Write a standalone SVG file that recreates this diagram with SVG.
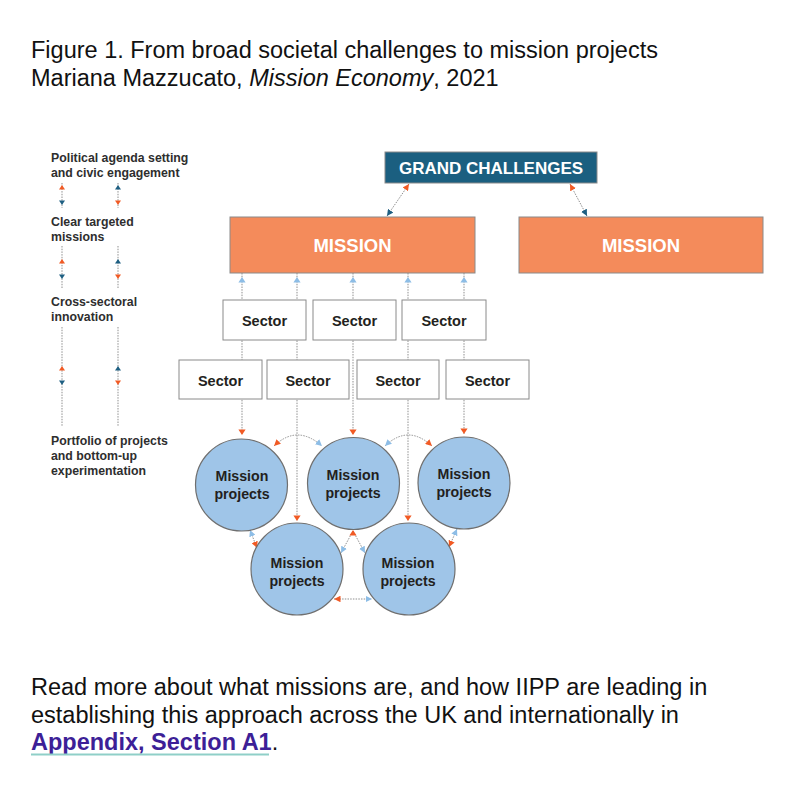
<svg xmlns="http://www.w3.org/2000/svg" xmlns:xlink="http://www.w3.org/1999/xlink" width="792" height="798" viewBox="0 0 792 798">
<defs>
<style>
.cap{font-family:"Liberation Sans",Arial,sans-serif;font-size:23.5px;fill:#111}
.leg{font-family:"Liberation Sans",Arial,sans-serif;font-size:12.3px;font-weight:bold;fill:#2e2e2e}
.box{stroke:#8a8a8a;stroke-width:1}
.sector{fill:#fff}
.mission{fill:#f48b5b}
.gc{fill:#1b5f80}
.wt{font-family:"Liberation Sans",Arial,sans-serif;font-weight:bold;fill:#fff;text-anchor:middle}
.st{font-family:"Liberation Sans",Arial,sans-serif;font-size:14.5px;font-weight:bold;fill:#231f20;text-anchor:middle}
.circ{fill:#9fc5e8;stroke:#6f6f6f;stroke-width:1.2}
.ct{font-family:"Liberation Sans",Arial,sans-serif;font-size:14.2px;font-weight:bold;fill:#231f20;text-anchor:middle}
.dot{fill:none;stroke:#8f8f8f;stroke-width:1;stroke-dasharray:1.5 1.2}
.o{fill:#f15a24}
.b{fill:#1e5f82}
.l{fill:#8dbde6}
</style>
<path id="ah" d="M0,0 L3.6,5.5 L-3.6,5.5 Z"/>
<path id="as" d="M0,0 L3,4.5 L-3,4.5 Z"/>
<marker id="mo" viewBox="0 0 8 8" refX="8" refY="4" markerWidth="6.5" markerHeight="6.5" markerUnits="userSpaceOnUse" orient="auto-start-reverse"><path d="M0,0 L8,4 L0,8 Z" fill="#f15a24"/></marker>
<marker id="mb" viewBox="0 0 8 8" refX="8" refY="4" markerWidth="6.5" markerHeight="6.5" markerUnits="userSpaceOnUse" orient="auto-start-reverse"><path d="M0,0 L8,4 L0,8 Z" fill="#1e5f82"/></marker>
<marker id="ml" viewBox="0 0 8 8" refX="8" refY="4" markerWidth="6.5" markerHeight="6.5" markerUnits="userSpaceOnUse" orient="auto-start-reverse"><path d="M0,0 L8,4 L0,8 Z" fill="#8dbde6"/></marker>
</defs>
<rect width="792" height="798" fill="#fff"/>

<g id="title">
<text class="cap" x="31" y="58">Figure 1. From broad societal challenges to mission projects</text>
<text class="cap" x="31" y="86">Mariana Mazzucato, <tspan font-style="italic">Mission Economy</tspan>, 2021</text>
</g>

<g id="legend">
<text class="leg" x="51" y="162">Political agenda setting</text>
<text class="leg" x="51" y="177">and civic engagement</text>
<text class="leg" x="51" y="226">Clear targeted</text>
<text class="leg" x="51" y="241">missions</text>
<text class="leg" x="51" y="306">Cross-sectoral</text>
<text class="leg" x="51" y="321">innovation</text>
<text class="leg" x="51" y="445">Portfolio of projects</text>
<text class="leg" x="51" y="460">and bottom-up</text>
<text class="leg" x="51" y="475">experimentation</text>
</g>

<g id="connectors">
<!-- legend arrows -->
<path class="dot" d="M62,183 V208 M118,183 V208 M62,246 V288 M118,246 V288 M62,327 V426 M118,327 V426"/>
<use href="#as" class="o" transform="translate(62,185)"/>
<use href="#as" class="b" transform="translate(62,205) rotate(180)"/>
<use href="#as" class="b" transform="translate(118,185)"/>
<use href="#as" class="o" transform="translate(118,205) rotate(180)"/>
<use href="#as" class="o" transform="translate(62,259)"/>
<use href="#as" class="b" transform="translate(62,279) rotate(180)"/>
<use href="#as" class="b" transform="translate(118,259)"/>
<use href="#as" class="o" transform="translate(118,279) rotate(180)"/>
<use href="#as" class="o" transform="translate(62,366)"/>
<use href="#as" class="b" transform="translate(62,385) rotate(180)"/>
<use href="#as" class="b" transform="translate(118,366)"/>
<use href="#as" class="o" transform="translate(118,385) rotate(180)"/>

<!-- grand challenges to missions -->
<path class="dot" d="M409,184 L387,216" marker-start="url(#mo)" marker-end="url(#mb)"/>
<path class="dot" d="M570,184 L587,216" marker-start="url(#mo)" marker-end="url(#mb)"/>

<!-- vertical mission/sector/project lines -->
<path class="dot" d="M242,273 V435 M297,273 V521 M353,273 V435 M408,273 V521 M464,273 V434"/>
<use href="#ah" class="l" transform="translate(242,277)"/>
<use href="#ah" class="l" transform="translate(297,277)"/>
<use href="#ah" class="l" transform="translate(353,277)"/>
<use href="#ah" class="l" transform="translate(408,277)"/>
<use href="#ah" class="l" transform="translate(464,277)"/>
<use href="#ah" class="o" transform="translate(242,435) rotate(180)"/>
<use href="#ah" class="o" transform="translate(297,521) rotate(180)"/>
<use href="#ah" class="o" transform="translate(353,435) rotate(180)"/>
<use href="#ah" class="o" transform="translate(408,521) rotate(180)"/>
<use href="#ah" class="o" transform="translate(464,434) rotate(180)"/>

<!-- between projects -->
<path class="dot" d="M274,446 Q297,424 322,446" marker-start="url(#mo)" marker-end="url(#ml)"/>
<path class="dot" d="M385,446 Q408,424 432,446" marker-start="url(#ml)" marker-end="url(#mo)"/>
<path class="dot" d="M250,530 L257,548" marker-start="url(#ml)" marker-end="url(#mo)"/>
<path class="dot" d="M457,529 L449,547" marker-start="url(#ml)" marker-end="url(#mo)"/>
<path class="dot" d="M353,531 L341,553" marker-end="url(#ml)"/>
<path class="dot" d="M353,531 L365,553" marker-end="url(#ml)"/>
<use href="#ah" class="o" transform="translate(353,530)"/>
<path class="dot" d="M334,599 L372,599" marker-start="url(#mo)" marker-end="url(#ml)"/>
</g>

<g id="grand-challenges">
<rect class="box gc" x="385" y="152" width="212" height="31"/>
<text class="wt" x="491" y="174" font-size="17">GRAND CHALLENGES</text>
</g>
<g id="mission-1">
<rect class="box mission" x="230" y="217" width="245" height="56"/>
<text class="wt" x="352.5" y="252" font-size="18.5">MISSION</text>
</g>
<g id="mission-2">
<rect class="box mission" x="519" y="217" width="244" height="56"/>
<text class="wt" x="641" y="252" font-size="18.5">MISSION</text>
</g>

<g id="sector-1"><rect class="box sector" x="223" y="300" width="83" height="40"/><text class="st" x="264.5" y="325.5">Sector</text></g>
<g id="sector-2"><rect class="box sector" x="313" y="300" width="83" height="40"/><text class="st" x="354.5" y="325.5">Sector</text></g>
<g id="sector-3"><rect class="box sector" x="402" y="300" width="84" height="40"/><text class="st" x="444" y="325.5">Sector</text></g>
<g id="sector-4"><rect class="box sector" x="179" y="360" width="83" height="39"/><text class="st" x="220.5" y="385.5">Sector</text></g>
<g id="sector-5"><rect class="box sector" x="267" y="360" width="82" height="39"/><text class="st" x="308" y="385.5">Sector</text></g>
<g id="sector-6"><rect class="box sector" x="357" y="360" width="82" height="39"/><text class="st" x="398" y="385.5">Sector</text></g>
<g id="sector-7"><rect class="box sector" x="446" y="360" width="83" height="39"/><text class="st" x="487.5" y="385.5">Sector</text></g>

<g id="project-1"><circle class="circ" cx="241.5" cy="485" r="46"/><text class="ct" x="242" y="481">Mission</text><text class="ct" x="242" y="499">projects</text></g>
<g id="project-2"><circle class="circ" cx="353.5" cy="483.5" r="46"/><text class="ct" x="353" y="480">Mission</text><text class="ct" x="353" y="498">projects</text></g>
<g id="project-3"><circle class="circ" cx="464" cy="483" r="46"/><text class="ct" x="464" y="479">Mission</text><text class="ct" x="464" y="497">projects</text></g>
<g id="project-4"><circle class="circ" cx="297" cy="569" r="46"/><text class="ct" x="297" y="568">Mission</text><text class="ct" x="297" y="586">projects</text></g>
<g id="project-5"><circle class="circ" cx="409" cy="569" r="46"/><text class="ct" x="408" y="568">Mission</text><text class="ct" x="408" y="586">projects</text></g>

<g id="footer">
<text class="cap" x="31" y="695">Read more about what missions are, and how IIPP are leading in</text>
<text class="cap" x="31" y="723">establishing this approach across the UK and internationally in</text>
<text class="cap" x="31" y="750"><tspan font-weight="bold" fill="#3d1f97">Appendix, Section A1</tspan>.</text>
<line x1="31" y1="754.5" x2="269" y2="754.5" stroke="#8fcfc8" stroke-width="1.8"/>
</g>
</svg>
